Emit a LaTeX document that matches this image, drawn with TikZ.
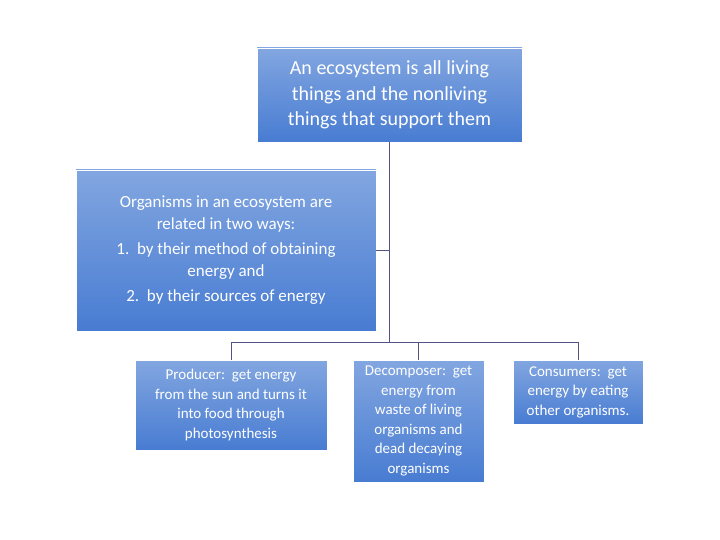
\documentclass[tikz,border=0pt]{standalone}
\usepackage{fontspec}
\setmainfont{Carlito}
\begin{document}
\begin{tikzpicture}[x=1pt,y=-1pt,
  bx/.style={draw=white,line width=0.6pt,top color=blue!35!cyan!10!white!60!blue!70,bottom color=blue!60!cyan!40!black!80!white,text=white,align=center,inner sep=2pt},
  ln/.style={draw=black!45!blue!35!gray,line width=0.8pt}]
\useasboundingbox (0,0) rectangle (720,540);
\tikzset{bx/.style={draw=white,line width=0.6pt,top color={rgb,255:red,130;green,166;blue,224},bottom color={rgb,255:red,72;green,124;blue,210},text=white,align=center,inner sep=2pt}}
\node[bx,minimum width=265,minimum height=94,font=\fontsize{20}{25.5}\selectfont] (top) at (389.5,95) {An ecosystem is all living\\things and the nonliving\\things that support them};
\node[bx,minimum width=300,minimum height=161,font=\fontsize{17}{22}\selectfont] (org) at (226,250.5) {Organisms in an ecosystem are\\related in two ways:\\[3pt]1.\ \ by their method of obtaining\\energy and\\[3pt]2.\ \ by their sources of energy};
\node[bx,minimum width=192,minimum height=90,font=\fontsize{15}{19.5}\selectfont] (prod) at (231,405) {Producer:\ \ get energy\\from the sun and turns it\\into food through\\photosynthesis};
\node[bx,minimum width=131,minimum height=122,font=\fontsize{15}{19.5}\selectfont] (dec) at (418.5,421) {Decomposer:\ \ get\\energy from\\waste of living\\organisms and\\dead decaying\\organisms};
\node[bx,minimum width=130,minimum height=64,font=\fontsize{15}{19.5}\selectfont] (con) at (578,392) {Consumers:\ \ get\\energy by eating\\other organisms.};
\coordinate (j) at (389.5,342);
\coordinate (jo) at (389.5,250.5);
\draw[ln] (top.south) -- (j);
\draw[ln] (org.east) -- (jo);
\draw[ln] (j) -| (prod.north);
\draw[ln] (j) -| (dec.north);
\draw[ln] (j) -| (con.north);
\end{tikzpicture}
\end{document}
